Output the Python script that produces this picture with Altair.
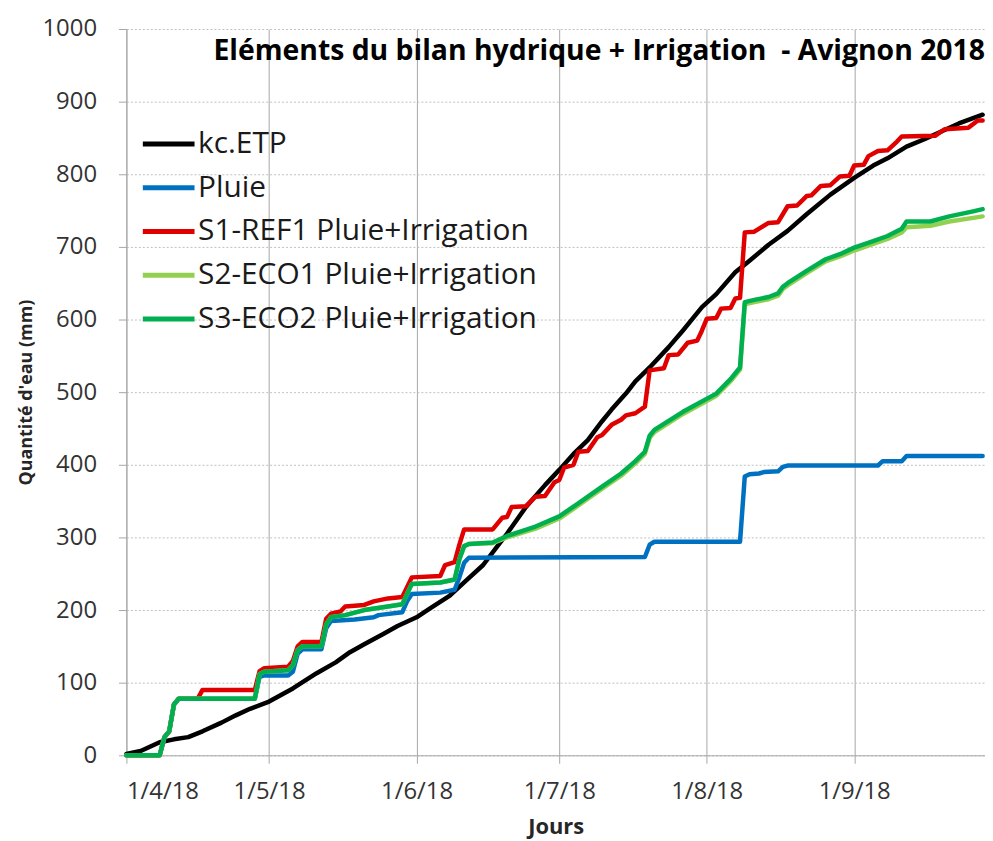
import altair as alt
import pandas as pd

# Jours depuis le 1/4/18 et cumuls (mm)
etp_jours = [0, 3, 7, 10, 13, 16, 20, 23, 26, 30, 35, 40, 44, 47, 50, 54, 57, 61, 64, 68, 71, 75, 78, 80, 84, 88, 91, 94, 97, 100, 102, 105, 107, 110, 114, 117, 121, 124, 128, 131, 135, 139, 143, 148, 153, 157, 160, 164, 168, 172, 175, 180]
etp_mm = [2, 6, 18, 22, 25, 33, 45, 55, 64, 74, 92, 113, 128, 142, 153, 167, 178, 190, 203, 220, 238, 262, 288, 305, 342, 372, 393, 415, 434, 460, 476, 498, 515, 534, 562, 585, 617, 635, 665, 681, 703, 722, 745, 772, 795, 812, 822, 838, 849, 861, 870, 882]

pluie_jours = [0, 7, 8, 9, 10, 11, 27, 28, 29, 34, 35, 36, 37, 41, 42, 43, 48, 52, 53, 58, 59, 60, 66, 69, 70, 71, 72, 109, 110, 111, 129, 130, 131, 133, 134, 137, 138, 139, 158, 159, 163, 164, 180]
pluie_mm = [0, 0, 25, 33, 70, 78, 78, 108, 110, 110, 115, 140, 146, 146, 175, 185, 187, 190, 193, 197, 212, 222, 224, 228, 245, 265, 272, 273, 290, 294, 294, 384, 387, 388, 390, 391, 397, 399, 399, 405, 405, 412, 412]

s1_jours = [0, 7, 8, 9, 10, 11, 15, 16, 27, 28, 29, 34, 35, 36, 37, 41, 42, 43, 45, 46, 50, 52, 55, 58, 60, 66, 67, 69, 70, 71, 77, 79, 80, 81, 84, 86, 88, 90, 91, 92, 94, 95, 97, 99, 100, 102, 104, 105, 107, 109, 110, 113, 114, 116, 118, 120, 121, 122, 124, 125, 127, 128, 129, 130, 132, 135, 137, 139, 141, 143, 144, 146, 148, 150, 152, 153, 155, 156, 158, 160, 162, 163, 170, 172, 177, 179, 180]
s1_mm = [0, 0, 25, 33, 70, 78, 78, 90, 90, 116, 120, 122, 130, 150, 156, 156, 188, 195, 198, 205, 207, 212, 216, 218, 245, 247, 262, 266, 290, 311, 311, 327, 328, 342, 343, 356, 357, 376, 379, 396, 400, 418, 419, 438, 441, 455, 462, 468, 471, 480, 530, 533, 551, 552, 568, 571, 585, 601, 602, 615, 616, 629, 630, 720, 721, 733, 734, 756, 757, 770, 771, 784, 785, 797, 798, 812, 813, 825, 832, 833, 845, 852, 853, 862, 864, 874, 874]

s2_jours = [0, 7, 8, 9, 10, 11, 27, 28, 29, 34, 35, 36, 37, 41, 42, 43, 46, 50, 55, 58, 60, 66, 69, 70, 71, 72, 77, 80, 86, 91, 95, 100, 104, 107, 109, 110, 111, 117, 124, 127, 129, 130, 132, 135, 137, 138, 139, 143, 147, 150, 153, 157, 160, 163, 164, 169, 173, 178, 180]
s2_mm = [0, 0, 25, 33, 70, 78, 78, 112, 115, 117, 124, 145, 150, 150, 180, 190, 193, 200, 205, 208, 236, 238, 242, 270, 288, 291, 292, 300, 312, 326, 344, 367, 385, 402, 415, 437, 445, 470, 495, 515, 531, 621, 624, 628, 633, 642, 647, 664, 680, 687, 695, 704, 711, 720, 727, 729, 735, 740, 742]

s3_jours = [0, 7, 8, 9, 10, 11, 27, 28, 29, 34, 35, 36, 37, 41, 42, 43, 46, 50, 55, 58, 60, 66, 69, 70, 71, 72, 77, 80, 86, 91, 95, 100, 104, 107, 109, 110, 111, 117, 124, 127, 129, 130, 132, 135, 137, 138, 139, 143, 147, 150, 153, 157, 160, 163, 164, 169, 173, 178, 180]
s3_mm = [0, 0, 25, 33, 70, 78, 78, 112, 115, 117, 124, 145, 150, 150, 180, 190, 193, 200, 205, 208, 236, 238, 242, 270, 288, 291, 293, 302, 315, 329, 347, 370, 388, 405, 418, 440, 448, 473, 498, 518, 534, 624, 627, 631, 636, 645, 650, 667, 683, 690, 699, 708, 715, 725, 735, 735, 742, 749, 752]

noms = ["kc.ETP", "Pluie", "S1-REF1 Pluie+Irrigation", "S2-ECO1 Pluie+Irrigation", "S3-ECO2 Pluie+Irrigation"]
couleurs = ["#000000", "#0070C0", "#E00000", "#92D050", "#00B050"]
titre = "Eléments du bilan hydrique + Irrigation\u00a0 - Avignon 2018"

series = [(noms[0], etp_jours, etp_mm), (noms[1], pluie_jours, pluie_mm),
          (noms[2], s1_jours, s1_mm), (noms[3], s2_jours, s2_mm), (noms[4], s3_jours, s3_mm)]
debut = pd.Timestamp("2018-04-01")
rows = []
for i, (nom, jours, mm) in enumerate(series):
    for d, m in zip(jours, mm):
        rows.append({"serie": nom, "ordre": i,
                     "date": (debut + pd.Timedelta(days=d)).strftime("%Y-%m-%dT%H:%M:%S"),
                     "mm": m})
df = pd.DataFrame(rows)

W, H = 863, 730
FONT = "Open Sans"

mois = [alt.DateTime(year=2018, month=m, date=1) for m in range(4, 10)]

lines = alt.Chart(df).mark_line(strokeWidth=4.5, strokeJoin="round", strokeCap="round").encode(
    x=alt.X("date:T",
            scale=alt.Scale(domain=[alt.DateTime(year=2018, month=4, date=1),
                                    alt.DateTime(year=2018, month=9, date=28, hours=12)]),
            axis=alt.Axis(values=mois, format="%-d/%-m/%y", title="Jours",
                          labelFontSize=24, labelFont=FONT, labelColor="#333333", labelPadding=16,
                          tickSize=8, tickColor="#A6A6A6", domainColor="#A6A6A6",
                          grid=True, gridColor="#A6A6A6", gridWidth=1,
                          titleFontSize=22, titleFont=FONT, titleFontWeight="bold",
                          titleColor="#262626", titlePadding=14)),
    y=alt.Y("mm:Q", scale=alt.Scale(domain=[0, 1000]),
            axis=alt.Axis(values=list(range(0, 1001, 100)), format="d", title="Quantité d'eau (mm)",
                          labelFontSize=24, labelFont=FONT, labelColor="#333333", labelPadding=22,
                          tickSize=8, tickColor="#A6A6A6", domainColor="#A6A6A6",
                          grid=True, gridColor="#BFBFBF", gridDash=[2, 2],
                          titleFontSize=18, titleFont=FONT, titleFontWeight="bold",
                          titleColor="#262626", titlePadding=6)),
    color=alt.Color("serie:N", scale=alt.Scale(domain=noms, range=couleurs),
                    legend=alt.Legend(title=None, orient="none", legendX=14, legendY=87,
                                      symbolType="stroke", symbolSize=2700, symbolStrokeWidth=5,
                                      labelFontSize=30, labelFont=FONT, labelColor="#1a1a1a",
                                      labelOffset=1, labelLimit=0, rowPadding=-2)),
    detail="ordre:O",
    order="date:T",
)

titre_txt = alt.Chart(pd.DataFrame({"t": [titre]})).mark_text(
    align="right", baseline="middle", fontSize=28.5, fontWeight="bold", font=FONT, color="#000000"
).encode(text="t:N", x=alt.value(W), y=alt.value(22))

chart = alt.layer(lines, titre_txt).properties(
    width=W, height=H,
    padding={"left": 119, "top": 19, "right": 0, "bottom": 83},
    autosize=alt.AutoSizeParams(type="none"),
).configure_view(stroke=None)

chart.save("out.html", embed_options={"renderer": "svg", "actions": False})
